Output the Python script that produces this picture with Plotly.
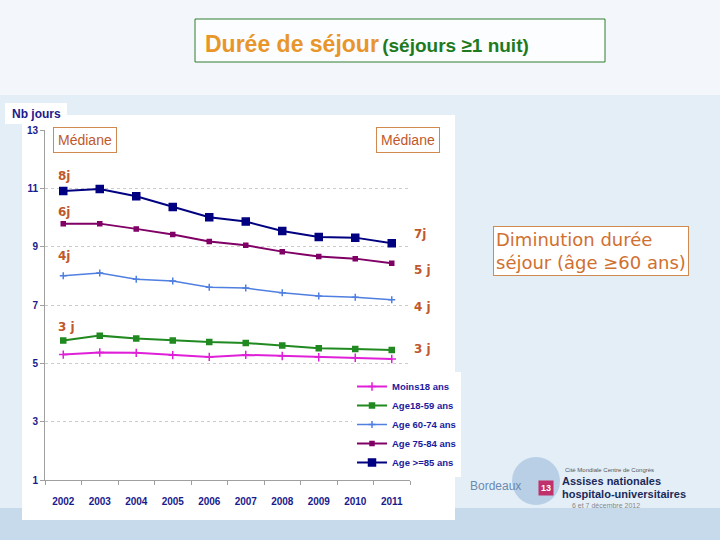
import plotly.graph_objects as go

years = ["2002", "2003", "2004", "2005", "2006", "2007", "2008", "2009", "2010", "2011"]
moins18 = [5.30, 5.37, 5.36, 5.28, 5.22, 5.29, 5.25, 5.21, 5.19, 5.15]
age18_59 = [5.78, 5.95, 5.85, 5.78, 5.73, 5.70, 5.61, 5.52, 5.49, 5.46]
age60_74 = [8.00, 8.10, 7.88, 7.82, 7.61, 7.58, 7.42, 7.31, 7.27, 7.18]
age75_84 = [9.79, 9.79, 9.61, 9.42, 9.18, 9.05, 8.83, 8.66, 8.59, 8.43]
age85 = [10.91, 10.98, 10.73, 10.36, 10.01, 9.86, 9.54, 9.33, 9.31, 9.12]
y_ticks = [1, 3, 5, 7, 9, 11, 13]

series = [
    ("Moins18 ans", moins18, "#e020d8", "cross-thin", 6, 2),
    ("Age18-59 ans", age18_59, "#208a20", "square", 5, 2),
    ("Age 60-74 ans", age60_74, "#4f7fe0", "cross-thin", 5, 1.5),
    ("Age 75-84 ans", age75_84, "#800066", "square", 4, 2),
    ("Age >=85 ans", age85, "#000080", "square", 7, 2),
]

W, H = 720, 540
L, R, T, B = 45, 410, 130, 480


def px(x):
    return (x - L) / (R - L)


def py(y):
    return (B - y) / (B - T)


fig = go.Figure()
for name, vals, col, sym, size, lw in series:
    fig.add_trace(go.Scatter(
        x=years, y=vals, name=name, mode="lines+markers",
        line=dict(color=col, width=lw),
        marker=dict(symbol=sym, size=size, color=col, line=dict(color=col, width=1.5)),
    ))

sans = "Liberation Sans, Arial, sans-serif"
axis_font = dict(family=sans, size=10, color="#1a1a8c", weight="bold")

fig.update_layout(
    width=W, height=H,
    margin=dict(l=L, r=W - R, t=T, b=H - B),
    paper_bgcolor="#e4eef7",
    plot_bgcolor="white",
    showlegend=True,
    legend=dict(
        x=px(352), y=py(372), xanchor="left", yanchor="top",
        bgcolor="white", borderwidth=0,
        font=dict(family=sans, size=9.5, color="#1a1aa0", weight="bold"),
        tracegroupgap=0, itemwidth=30,
    ),
    xaxis=dict(
        type="category", showgrid=False, showline=True, linecolor="#a0a0a0",
        ticks="outside", tickson="boundaries", ticklen=4, tickcolor="#a0a0a0",
        tickfont=axis_font, range=[-0.5, 9.5], ticklabelstandoff=12, tickangle=0,
    ),
    yaxis=dict(
        range=[1, 13], tickvals=y_ticks, showgrid=True, gridcolor="#cccccc",
        griddash="dot", gridwidth=1, showline=True, linecolor="#a0a0a0",
        ticks="outside", ticklen=4, tickcolor="#a0a0a0", zeroline=False,
        tickfont=axis_font,
    ),
    font=dict(family=sans),
)

shapes = [
    dict(type="rect", xref="paper", yref="paper", x0=px(0), x1=px(W), y0=py(0), y1=py(95),
         fillcolor="#f3f7fb", line=dict(width=0), layer="below"),
    dict(type="rect", xref="paper", yref="paper", x0=px(0), x1=px(W), y0=py(508), y1=py(H),
         fillcolor="#c6daec", line=dict(width=0), layer="below"),
    # white chart panel
    dict(type="rect", xref="paper", yref="paper", x0=px(22), x1=px(455), y0=py(115), y1=py(520),
         fillcolor="white", line=dict(width=0), layer="below"),
    # title box
    dict(type="rect", xref="paper", yref="paper", x0=px(195), x1=px(605), y0=py(19), y1=py(62),
         fillcolor="#fbfdfe", line=dict(color="#2e7d2e", width=1), layer="below"),
    # Nb jours box
    dict(type="rect", xref="paper", yref="paper", x0=px(5), x1=px(67), y0=py(103), y1=py(124),
         fillcolor="white", line=dict(width=0), layer="below"),
    # logo drop
    dict(type="circle", xref="paper", yref="paper", x0=px(512), x1=px(560), y0=py(457), y1=py(505),
         fillcolor="#b8cfe6", line=dict(width=0), layer="below"),
]
fig.update_layout(shapes=shapes)

lab_col = "#c0582c"
lab_font = dict(family="DejaVu Sans, Verdana, sans-serif", size=12, color=lab_col)
ann = [
    dict(text="<b><span style='color:#e8962a;font-size:23px'>Durée de séjour</span> "
              "<span style='color:#1e7a1e;font-size:19px'>(séjours ≥1 nuit)</span></b>",
         x=px(203), y=py(44), xanchor="left", yanchor="middle",
         font=dict(family=sans)),
    dict(text="<b>Nb jours</b>", x=px(36), y=py(114), xanchor="center", yanchor="middle",
         font=dict(family=sans, size=12, color="#1a1a8c")),
    dict(text="Médiane", x=px(85), y=py(140), xanchor="center", yanchor="middle",
         bordercolor="#d08a50", borderwidth=1, borderpad=4, bgcolor="white",
         font=dict(family=sans, size=14, color=lab_col)),
    dict(text="Médiane", x=px(408), y=py(140), xanchor="center", yanchor="middle",
         bordercolor="#d08a50", borderwidth=1, borderpad=4, bgcolor="white",
         font=dict(family=sans, size=14, color=lab_col)),
    dict(text="<b>8j</b>", x=px(56), y=py(176), xanchor="left", yanchor="middle", font=lab_font),
    dict(text="<b>6j</b>", x=px(56), y=py(212), xanchor="left", yanchor="middle", font=lab_font),
    dict(text="<b>4j</b>", x=px(56), y=py(256), xanchor="left", yanchor="middle", font=lab_font),
    dict(text="<b>3 j</b>", x=px(56), y=py(327), xanchor="left", yanchor="middle", font=lab_font),
    dict(text="<b>7j</b>", x=px(412), y=py(234), xanchor="left", yanchor="middle", font=lab_font),
    dict(text="<b>5 j</b>", x=px(412), y=py(270), xanchor="left", yanchor="middle", font=lab_font),
    dict(text="<b>4 j</b>", x=px(412), y=py(307), xanchor="left", yanchor="middle", font=lab_font),
    dict(text="<b>3 j</b>", x=px(412), y=py(349), xanchor="left", yanchor="middle", font=lab_font),
    dict(text="Diminution durée<br>séjour (âge ≥60 ans)", x=px(591), y=py(251),
         xanchor="center", yanchor="middle", align="left",
         bordercolor="#d08a50", borderwidth=1, borderpad=2, bgcolor="white",
         font=dict(family="DejaVu Sans, Verdana, sans-serif", size=18, color="#d07030")),
    # logo text
    dict(text="Bordeaux", x=px(496), y=py(486), xanchor="center", yanchor="middle",
         font=dict(family=sans, size=12, color="#6a8ab0")),
    dict(text="<b>13</b>", x=px(546), y=py(488), xanchor="center", yanchor="middle",
         bgcolor="#c0306a", borderpad=2,
         font=dict(family=sans, size=9, color="white")),
    dict(text="Cité Mondiale Centre de Congrès", x=px(563), y=py(470), xanchor="left", yanchor="middle",
         font=dict(family=sans, size=6, color="#555")),
    dict(text="<b>Assises nationales</b>", x=px(560), y=py(481), xanchor="left", yanchor="middle",
         font=dict(family=sans, size=11, color="#1a2a5a")),
    dict(text="<b>hospitalo-universitaires</b>", x=px(560), y=py(494), xanchor="left", yanchor="middle",
         font=dict(family=sans, size=11, color="#1a2a5a")),
    dict(text="6 et 7 décembre 2012", x=px(570), y=py(505), xanchor="left", yanchor="middle",
         font=dict(family=sans, size=7, color="#888")),
]
for a in ann:
    a.setdefault("xref", "paper")
    a.setdefault("yref", "paper")
    a.setdefault("showarrow", False)
fig.update_layout(annotations=ann)

fig.write_html("out.html", config={"displayModeBar": False},
               post_script="document.body.style.margin='0';document.body.style.overflow='hidden';")
